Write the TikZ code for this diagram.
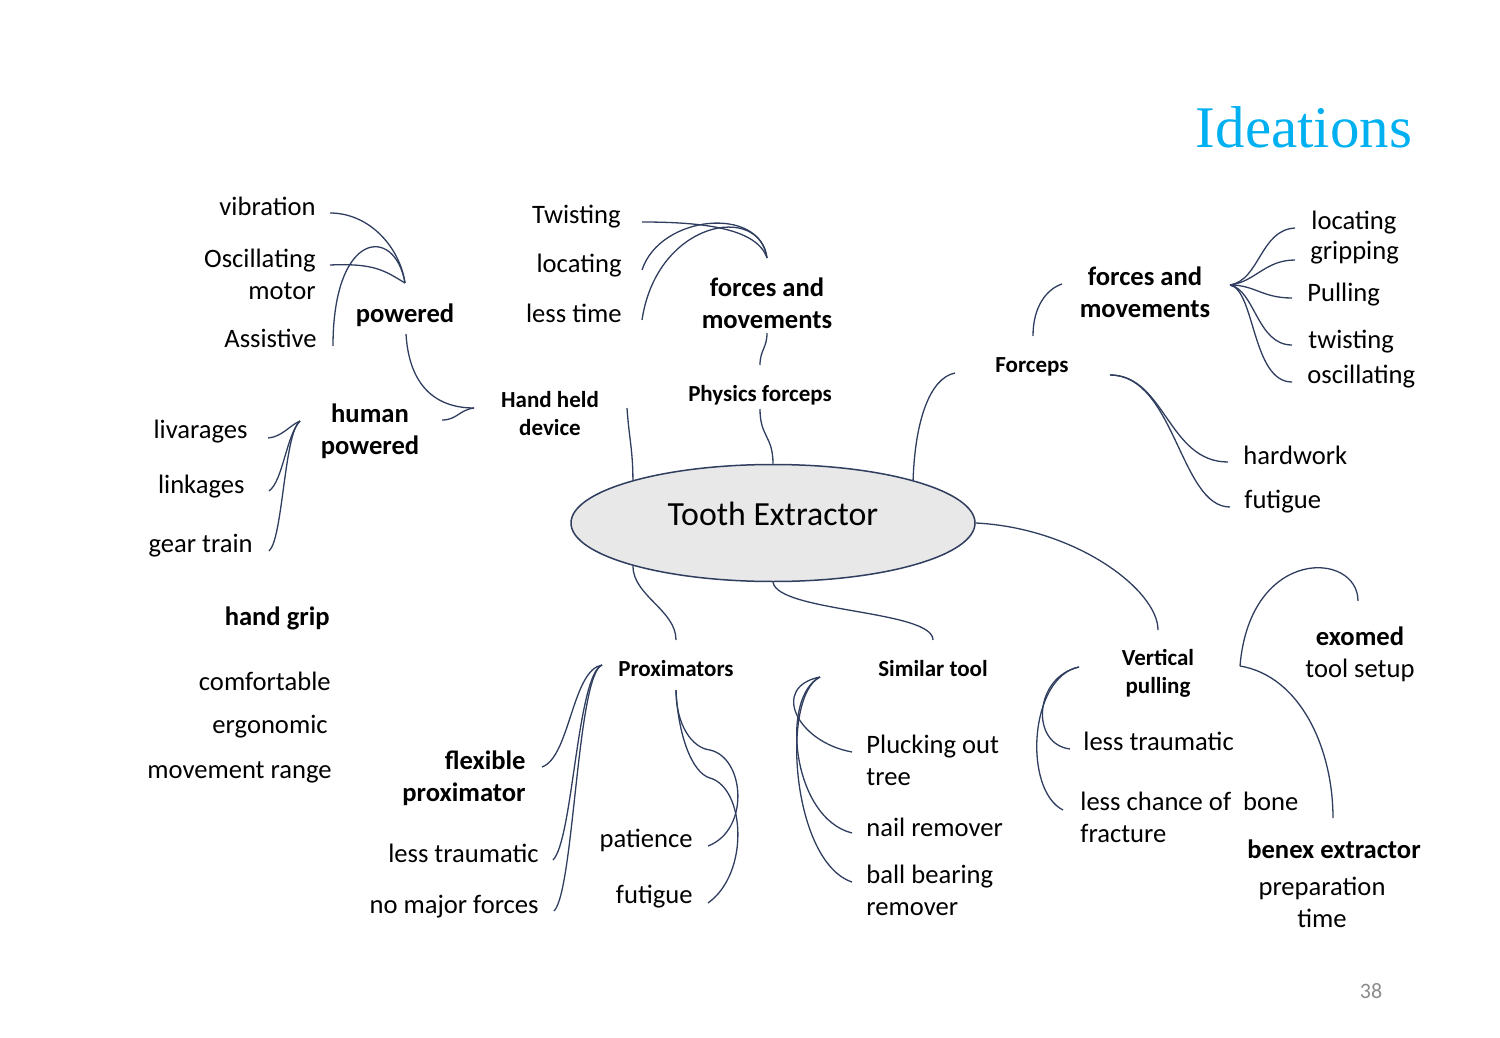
\documentclass[tikz,border=0pt]{standalone}
\usepackage{fontspec}
\setmainfont{Carlito}
\newfontfamily\titlefont{Liberation Serif}
\usetikzlibrary{shapes}
\definecolor{LinkNavy}{RGB}{47, 62, 95}
\definecolor{TitleBlue}{RGB}{0, 176, 240}
\definecolor{BubbleGrey}{RGB}{232, 232, 232}

\begin{document}
\begin{tikzpicture}[
    x=0.5pt, y=-0.5pt,
    txt/.style={inner sep=0pt, font=\fontsize{13.3}{16}\selectfont},
    head/.style={inner sep=0pt, font=\fontsize{13.3}{16}\selectfont\bfseries},
    subhead/.style={inner sep=0pt, font=\fontsize{11.5}{14}\selectfont\bfseries, align=center},
    link/.style={draw=LinkNavy, line width=0.65pt}
  ]
    \useasboundingbox (0,0) rectangle (1500,1038);

    \node[inner sep=0pt, anchor=base, text=TitleBlue, font=\titlefont\fontsize{29.5}{35}\selectfont] (title) at (1304,148) {Ideations};
    \node[inner sep=0pt, anchor=base, text=black!45, font=\fontsize{11}{13}\selectfont] (pgnum) at (1371,998) {38};

    \node[ellipse, draw=LinkNavy, fill=BubbleGrey, line width=0.75pt, minimum width=202pt, minimum height=58.5pt, inner sep=0pt, text height=12pt, text depth=10pt, font=\fontsize{16.9}{20}\selectfont] (root) at (773,523) {Tooth Extractor};

    % hand held device
    \node[txt, anchor=base east] (vib) at (316,215) {vibration};
    \node[txt, anchor=base east, align=right] (osc) at (316,299) {Oscillating\\motor};
    \node[txt, anchor=base east] (assist) at (317,347) {Assistive};
    \node[head, anchor=base] (pw) at (405,322) {powered};
    \node[head, anchor=base, align=center] (hp) at (370,454) {human\\powered};
    \node[subhead, anchor=base] (hh) at (550,435) {Hand held\\device};
    \node[txt, anchor=base east] (liv) at (248,438) {livarages};
    \node[txt, anchor=base east] (lnk) at (245,493) {linkages};
    \node[txt, anchor=base east] (gear) at (253,552) {gear train};

    % physics forceps
    \node[txt, anchor=base east] (tw1) at (621,223) {Twisting};
    \node[txt, anchor=base east] (loc1) at (622,272) {locating};
    \node[txt, anchor=base east] (lt1) at (622,322) {less time};
    \node[head, anchor=base, align=center] (fm1) at (767,328) {forces and\\movements};
    \node[subhead, anchor=base] (pf) at (760,401) {Physics forceps};

    % forceps
    \node[subhead, anchor=base] (fc) at (1032,372) {Forceps};
    \node[head, anchor=base, align=center] (fm2) at (1145,317) {forces and\\movements};
    \node[txt, anchor=base west] (loc2) at (1311,229) {locating};
    \node[txt, anchor=base west] (grip) at (1310,259) {gripping};
    \node[txt, anchor=base west] (pull) at (1307,301) {Pulling};
    \node[txt, anchor=base west] (tw2) at (1308,348) {twisting};
    \node[txt, anchor=base west] (osc2) at (1307,383) {oscillating};
    \node[txt, anchor=base west] (hard) at (1243,464) {hardwork};
    \node[txt, anchor=base west] (fut1) at (1244,508) {futigue};

    % hand grip
    \node[head, anchor=base east] (hg) at (330,625) {hand grip};
    \node[txt, anchor=base east] (comf) at (331,690) {comfortable};
    \node[txt, anchor=base east] (ergo) at (328,733) {ergonomic};
    \node[txt, anchor=base east] (mvr) at (332,778) {movement range};

    % proximators
    \node[subhead, anchor=base] (prox) at (676,676) {Proximators};
    \node[head, anchor=base east, align=right] (fp) at (526,801) {flexible\\proximator};
    \node[txt, anchor=base east] (lt2) at (539,862) {less traumatic};
    \node[txt, anchor=base east] (nmf) at (539,913) {no major forces};
    \node[txt, anchor=base east] (pat) at (693,847) {patience};
    \node[txt, anchor=base east] (fut2) at (693,903) {futigue};

    % similar tool
    \node[subhead, anchor=base] (sim) at (933,676) {Similar tool};
    \node[txt, anchor=base west, align=left] (pluck) at (866,785) {Plucking out\\tree};
    \node[txt, anchor=base west] (nail) at (866,836) {nail remover};
    \node[txt, anchor=base west, align=left] (ball) at (866,915) {ball bearing\\remover};

    % vertical pulling
    \node[subhead, anchor=base] (vp) at (1158,693) {Vertical\\pulling};
    \node[txt, anchor=base west] (lt3) at (1083,750) {less traumatic};
    \node[txt, anchor=base west, align=left] (lcb) at (1080,842) {less chance of\ \ bone\\fracture};
    \node[txt, anchor=base, align=center] (exo) at (1360,677) {\textbf{exomed}\\tool setup};
    \node[head, anchor=base] (benex) at (1334,858) {benex extractor};
    \node[txt, anchor=base, align=center] (prep) at (1322,927) {preparation\\time};

    % powered
    \coordinate (pwT) at ([shift={(0,-39)}]pw.base);
    \coordinate (pwB) at ([shift={(1,12)}]pw.base);
    \coordinate (hhL) at ([shift={(-76,-27)}]hh.base);
    \coordinate (hpL) at ([shift={(-70,-33)}]hp.base);
    \draw[link] ([shift={(14,-2)}]vib.base east) .. controls +(40,0) and +(-5,-35) .. (pwT);
    \draw[link] ([shift={(14,-34)}]osc.base east) .. controls +(45,-2) and +(-20,-12) .. (pwT);
    \draw[link] ([shift={(16,-1)}]assist.base east) .. controls +(0,-116) and +(-10,-58) .. (pwT);
    \draw[link] (pwB) .. controls +(3,50) and +(-40,0) .. (hhL);
    \draw[link] ([shift={(72,-34)}]hp.base) .. controls +(15,0) and +(-15,2) .. (hhL);
    \draw[link] ([shift={(20,0)}]liv.base east) .. controls +(14,-1) and +(-10,4) .. (hpL);
    \draw[link] ([shift={(24,-2)}]lnk.base east) .. controls +(14,-10) and +(-14,15) .. (hpL);
    \draw[link] ([shift={(16,-1)}]gear.base east) .. controls +(14,-12) and +(-16,12) .. (hpL);
    \draw[link] (root.163) .. controls +(0,-30) and +(2,30) .. ([shift={(77,-27)}]hh.base);

    % physics forceps
    \coordinate (fmT) at ([shift={(0,-70)}]fm1.base);
    \draw[link] (root.north) .. controls +(0,-28) and +(0,28) .. ([shift={(0,8)}]pf.base);
    \draw[link] ([shift={(0,-36)}]pf.base) .. controls +(0,-15) and +(0,15) .. ([shift={(0,5)}]fm1.base);
    \draw[link] ([shift={(21,-1)}]tw1.base east) .. controls +(60,0) and +(-10,-30) .. (fmT);
    \draw[link] ([shift={(20,-2)}]loc1.base east) .. controls +(18,-55) and +(-7,-53) .. (fmT);
    \draw[link] ([shift={(20,-2)}]lt1.base east) .. controls +(15,-100) and +(-7,-55) .. (fmT);

    % forceps
    \coordinate (fcR) at ([shift={(78,3)}]fc.base);
    \coordinate (fmR) at ([shift={(85,-32)}]fm2.base);
    \draw[link] (root.17) .. controls +(2,-60) and +(-25,5) .. ([shift={(-77,1)}]fc.base);
    \draw[link] ([shift={(1,-36)}]fc.base) .. controls +(0,-30) and +(-15,5) .. ([shift={(-83,-33)}]fm2.base);
    \draw[link] (fmR) .. controls +(30,-5) and +(-35,2) .. ([shift={(-16,-1)}]loc2.base west);
    \draw[link] (fmR) .. controls +(25,-3) and +(-30,0) .. ([shift={(-15,1)}]grip.base west);
    \draw[link] (fmR) .. controls +(25,0) and +(-30,0) .. ([shift={(-15,-3)}]pull.base west);
    \draw[link] (fmR) .. controls +(25,5) and +(-35,0) .. ([shift={(-16,-3)}]tw2.base west);
    \draw[link] (fmR) .. controls +(25,5) and +(-40,0) .. ([shift={(-15,-1)}]osc2.base west);
    \draw[link] (fcR) .. controls +(55,0) and +(-60,0) .. ([shift={(-15,-2)}]hard.base west);
    \draw[link] (fcR) .. controls +(65,0) and +(-50,0) .. ([shift={(-14,-1)}]fut1.base west);

    % vertical pulling
    \coordinate (vpL) at ([shift={(-79,-26)}]vp.base);
    \coordinate (vpR) at ([shift={(82,-27)}]vp.base);
    \draw[link] (root.east) .. controls +(100,5) and +(0,-40) .. ([shift={(0,-63)}]vp.base);
    \draw[link] (vpL) .. controls +(-45,10) and +(-40,-5) .. ([shift={(-13,-1)}]lt3.base west);
    \draw[link] (vpL) .. controls +(-50,10) and +(-40,-20) .. ([shift={(-17,-32)}]lcb.base west);
    \draw[link] (vpR) .. controls +(10,-120) and +(0,-50) .. ([shift={(-2,-76)}]exo.base);
    \draw[link] (vpR) .. controls +(60,10) and +(0,-70) .. ([shift={(-1,-40)}]benex.base);

    % similar tool
    \coordinate (simL) at ([shift={(-113,1)}]sim.base);
    \draw[link] (root.south) .. controls +(5,30) and +(0,-30) .. ([shift={(0,-36)}]sim.base);
    \draw[link] (simL) .. controls +(-50,10) and +(-55,-10) .. ([shift={(-14,-33)}]pluck.base west);
    \draw[link] (simL) .. controls +(-40,20) and +(-60,-15) .. ([shift={(-14,-3)}]nail.base west);
    \draw[link] (simL) .. controls +(-40,20) and +(-60,-20) .. ([shift={(-14,-33)}]ball.base west);

    % proximators
    \coordinate (proxL) at ([shift={(-74,-11)}]prox.base);
    \coordinate (proxB) at ([shift={(0,14)}]prox.base);
    \draw[link] (root.197) .. controls +(0,30) and +(0,-30) .. ([shift={(0,-36)}]prox.base);
    \draw[link] ([shift={(16,-34)}]fp.base east) .. controls +(28,-10) and +(-30,5) .. (proxL);
    \draw[link] ([shift={(14,-2)}]lt2.base east) .. controls +(20,-20) and +(-25,10) .. (proxL);
    \draw[link] ([shift={(15,-2)}]nmf.base east) .. controls +(20,-20) and +(-25,10) .. (proxL);
    \draw[link] (proxB) .. controls +(0,35) and +(-18,-2) .. ++(34,60)
                        .. controls +(35,8) and +(42,-16) .. ([shift={(15,-1)}]pat.base east);
    \draw[link] (proxB) .. controls +(2,45) and +(-18,-5) .. ++(34,88)
                        .. controls +(35,10) and +(42,-30) .. ([shift={(15,0)}]fut2.base east);
\end{tikzpicture}
\end{document}
